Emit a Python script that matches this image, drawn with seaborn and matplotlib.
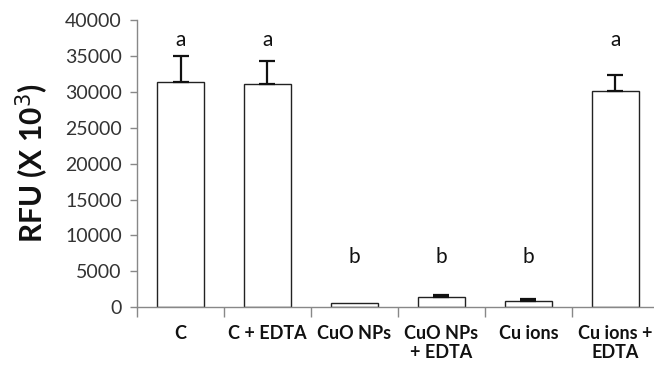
import matplotlib
matplotlib.use("Agg")
import matplotlib.pyplot as plt
import numpy as np
import pandas as pd
import seaborn as sns

CATEGORIES = ["C", "C + EDTA", "CuO NPs", "CuO NPs\n+ EDTA", "Cu ions", "Cu ions +\nEDTA"]
MEANS = [31400, 31100, 600, 1350, 880, 30200]
ERRORS = [3600, 3200, 0, 400, 250, 2200]
LETTERS = ["a", "a", "b", "b", "b", "a"]
LETTER_Y = [37300, 37300, 7000, 7000, 7000, 37300]

sns.set_theme(style="white")
plt.rcParams["font.family"] = ["Lato", "DejaVu Sans"]

df = pd.DataFrame({"group": CATEGORIES, "rfu": MEANS})

fig = plt.figure(figsize=(6.54, 3.66), dpi=100)
ax = fig.add_axes([0.2095, 0.161, 0.798, 0.783])

sns.barplot(data=df, x="group", y="rfu", order=CATEGORIES, color="white",
            edgecolor="#222222", linewidth=1.0, width=0.54, errorbar=None, ax=ax)

# one-sided error bars, taken from the bar positions (skip zero errors)
xs = [p.get_x() + p.get_width() / 2 for p in ax.patches]
has_err = [e > 0 for e in ERRORS]
ax.errorbar([x for x, k in zip(xs, has_err) if k],
            [m for m, k in zip(MEANS, has_err) if k],
            yerr=[[0] * sum(has_err), [e for e in ERRORS if e > 0]], fmt="none",
            ecolor="#111111", elinewidth=1.6, capsize=6, capthick=1.6)

for x, y, t in zip(xs, LETTER_Y, LETTERS):
    ax.text(x, y, t, ha="center", va="center", fontsize=15, color="#111111")

ax.set_ylim(0, 40000)
ax.set_xlim(-0.5, len(CATEGORIES) - 0.5)
ax.set_yticks(range(0, 40001, 5000))
ax.tick_params(axis="y", labelsize=14, colors="#333333", length=5, width=1,
               direction="out", left=True, color="#888888", pad=6)
ax.set_xticks(range(len(CATEGORIES)))
ax.set_xticklabels(CATEGORIES, fontsize=13, fontweight="bold", color="#111111",
                   linespacing=1.15, va="top")
ax.tick_params(axis="x", length=0, pad=13)
# category boundary ticks
ax.set_xticks(np.arange(-0.5, len(CATEGORIES) - 0.5, 1), minor=True)
ax.tick_params(axis="x", which="minor", length=7, width=1, color="#888888",
               direction="out", bottom=True)

for side in ["top", "right"]:
    ax.spines[side].set_visible(False)
for side in ["left", "bottom"]:
    ax.spines[side].set_color("#888888")
    ax.spines[side].set_linewidth(1)

ax.set_xlabel("")
ax.set_ylabel("RFU (X 10$^3$)", fontsize=21.5, fontweight="bold", color="#111111", labelpad=10)

fig.savefig("out.png", dpi=100)
